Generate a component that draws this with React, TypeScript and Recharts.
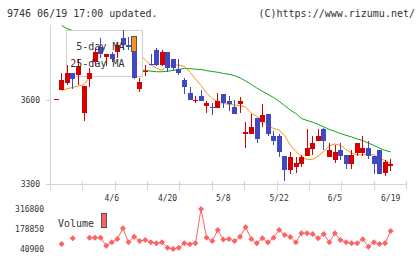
import React from 'react';
import { ComposedChart, Bar, Line, XAxis, YAxis } from 'recharts';

// trading days shown on the chart
const dates = [
  '3/23', '3/24', '3/25', '3/26', '3/27', '3/30', '3/31', '4/1', '4/2', '4/3',
  '4/6', '4/7', '4/8', '4/9', '4/10', '4/13', '4/14', '4/15', '4/16', '4/17',
  '4/20', '4/21', '4/22', '4/23', '4/24', '4/27', '4/28', '4/30', '5/1', '5/7',
  '5/8', '5/11', '5/12', '5/13', '5/14', '5/15', '5/18', '5/19', '5/20', '5/21',
  '5/22', '5/25', '5/26', '5/27', '5/28', '5/29', '6/1', '6/2', '6/3', '6/4',
  '6/5', '6/8', '6/9', '6/10', '6/11', '6/12', '6/15', '6/16', '6/17', '6/18',
  '6/19',
];

const opens = [
  3600, 3635, 3660, 3695, 3690, 3555, 3675, 3735, 3790, 3755,
  3765, 3770, 3820, 3795, 3770, 3640, 3700, 3730, 3780, 3725,
  3770, 3745, 3710, 3670, 3625, 3595, 3615, 3580, 3575, 3570,
  3620, 3595, 3575, 3585, 3480, 3480, 3535, 3520, 3550, 3470,
  3470, 3400, 3350, 3360, 3370, 3400, 3425, 3455, 3495, 3395,
  3385, 3420, 3405, 3370, 3410, 3410, 3430, 3400, 3420, 3340,
  3365,
];
const highs = [
  3600, 3695, 3725, 3695, 3745, 3650, 3715, 3785, 3820, 3765,
  3770, 3805, 3850, 3825, 3770, 3680, 3725, 3765, 3785, 3780,
  3770, 3745, 3745, 3680, 3645, 3615, 3635, 3595, 3590, 3625,
  3620, 3615, 3600, 3610, 3520, 3550, 3535, 3585, 3550, 3490,
  3480, 3400, 3415, 3395, 3405, 3495, 3470, 3495, 3500, 3445,
  3440, 3445, 3405, 3420, 3445, 3470, 3455, 3400, 3420, 3385,
  3390,
];
const lows = [
  3600, 3635, 3655, 3640, 3655, 3525, 3645, 3720, 3750, 3720,
  3735, 3750, 3780, 3780, 3675, 3630, 3685, 3725, 3720, 3720,
  3700, 3705, 3690, 3620, 3600, 3590, 3595, 3555, 3545, 3570,
  3570, 3560, 3550, 3555, 3430, 3480, 3445, 3505, 3470, 3440,
  3395, 3310, 3335, 3340, 3360, 3400, 3405, 3455, 3420, 3395,
  3375, 3385, 3355, 3355, 3400, 3400, 3390, 3335, 3335, 3330,
  3345,
];
const closes = [
  3600, 3670, 3695, 3675, 3720, 3650, 3695, 3770, 3765, 3765,
  3745, 3795, 3795, 3790, 3680, 3665, 3705, 3725, 3725, 3770,
  3715, 3715, 3695, 3645, 3600, 3600, 3595, 3590, 3570, 3595,
  3590, 3585, 3550, 3595, 3485, 3505, 3460, 3545, 3480, 3455,
  3415, 3350, 3395, 3375, 3395, 3430, 3445, 3470, 3455, 3420,
  3415, 3400, 3370, 3405, 3445, 3430, 3400, 3370, 3335, 3380,
  3370,
];
const ma5 = [
  null, 3635, 3640, 3645, 3650, 3655, 3680, 3702, 3720, 3728,
  3747, 3768, 3772, 3777, 3761, 3764, 3743, 3725, 3714, 3706,
  3723, 3725, 3725, 3720, 3700, 3675, 3652, 3625, 3605, 3593,
  3588, 3584, 3582, 3580, 3575, 3554, 3541, 3529, 3509, 3498,
  3493, 3473, 3439, 3416, 3398, 3388, 3388, 3400, 3416, 3436,
  3443, 3438, 3423, 3411, 3404, 3404, 3407, 3404, 3391, 3384,
  3373,
];
const ma25 = [
  null, 3866, 3855, 3848, 3840, 3830, 3820, 3808, 3797, 3786,
  3775, 3763, 3750, 3738, 3725, 3709, 3706, 3703, 3701, 3701,
  3703, 3706, 3709, 3713, 3712, 3710, 3709, 3705, 3702, 3699,
  3695, 3692, 3687, 3679, 3668, 3656, 3643, 3631, 3620, 3609,
  3595, 3580, 3564, 3552, 3534, 3527, 3521, 3513, 3504, 3495,
  3488, 3480, 3474, 3468, 3461, 3455, 3446, 3438, 3428, 3420,
  3415,
];
const volumes = [
  null, 75400, null, 114700, null, null, 118800, 118800, 118800, 63700,
  87100, 109900, 183700, 87100, 125700, 96100, 103000, 87100, 80200, 87100,
  49900, 40900, 49900, 80200, 73300, 80200, 316800, 118800, 96100, 172000,
  106400, 109900, 96100, 125700, 190600, 109900, 80200, 114700, 87100, 118800,
  172000, 137500, 123700, 87100, 149200, 149200, 144400, 114700, 144400, 87100,
  149200, 103000, 87100, 80200, 80200, 107800, 56800, 87100, 75400, 80200,
  165100,
];

const tickDates = ['4/6', '4/20', '5/8', '5/22', '6/5', '6/19'];
const priceTicks = [3300, 3600];
const volumeTicks = [40900, 178850, 316800];

const W = 420;
const H = 259;
const X_DOMAIN: [number, number] = [-1.08, 62.75];
const PRICE_DOMAIN: [number, number] = [3300, 3868];
const VOL_DOMAIN: [number, number] = [40900, 316800];

const RED = '#d40000';
const BLUE = '#4048c2';
const ORANGE = '#f7941d';
const GREEN = '#15a315';
const VOL = '#ff6262';
const AXIS = '#d4d4d4';
const TEXT = '#333';
const FONT = '"DejaVu Sans Mono", monospace';

const rows = dates.map((date, i) => ({
  i,
  date,
  open: opens[i],
  high: highs[i],
  low: lows[i],
  close: closes[i],
  ma5: ma5[i],
  ma25: ma25[i],
  volume: volumes[i],
}));

const labelIdx = tickDates.map((d) => dates.indexOf(d));
// small gray ticks along the price axis, evenly spread edge to edge
const gridTicks = Array.from(
  { length: 12 },
  (_, k) => X_DOMAIN[0] + (k * (X_DOMAIN[1] - X_DOMAIN[0])) / 11
);

const layer: React.CSSProperties = { position: 'absolute', left: 0, top: 0 };

const DateTick = ({ x, y, payload }: any) => {
  if (!labelIdx.includes(payload.value)) {
    const px = Math.round(x);
    return <line x1={px} x2={px} y1={y - 3} y2={y + 6} stroke={AXIS} shapeRendering="crispEdges" />;
  }
  return (
    <text x={x} y={y + 16.5} textAnchor="middle" fontSize={8} fontFamily={FONT} fill={TEXT}>
      {dates[payload.value]}
    </text>
  );
};

const PriceTick = ({ x, y, payload }: any) => (
  <g>
    <line x1={x - 4} x2={x} y1={y} y2={y} stroke={AXIS} shapeRendering="crispEdges" />
    <text x={x - 10} y={y + 3} textAnchor="end" fontSize={8} fontFamily={FONT} fill={TEXT}>
      {payload.value}
    </text>
  </g>
);

const VolumeTick = ({ x, y, payload }: any) => (
  <text x={x - 6} y={y + 3} textAnchor="end" fontSize={8} fontFamily={FONT} fill={TEXT}>
    {payload.value}
  </text>
);

const candleShape = (w: number) => (p: any) => {
  const { x, y, width, height, payload } = p;
  const cx = Math.round(x + width / 2);
  const top = Math.round(Math.min(y, y + height));
  const bottom = Math.max(top + 1, Math.round(Math.max(y, y + height)));
  return (
    <rect
      x={cx - (w - 1) / 2}
      y={top}
      width={w}
      height={bottom - top}
      fill={payload.close >= payload.open ? RED : BLUE}
      shapeRendering="crispEdges"
    />
  );
};

const VolumeDot = (p: any) => {
  const { cx, cy, index, value } = p;
  if (value == null || cy == null) return <g key={index} />;
  return (
    <polygon
      key={index}
      points={`${cx},${cy - 3} ${cx + 3},${cy} ${cx},${cy + 3} ${cx - 3},${cy}`}
      fill={VOL}
    />
  );
};

export default function App() {
  return (
    <div style={{ position: 'absolute', left: 0, top: 0, width: W, height: H, background: '#fff', overflow: 'hidden' }}>
      {/* axes and moving averages */}
      <div style={layer}>
        <ComposedChart width={W} height={H} data={rows} margin={{ top: 25, right: 14, bottom: 49, left: 0 }}>
          <XAxis
            dataKey="i"
            type="number"
            domain={X_DOMAIN}
            ticks={[...labelIdx, ...gridTicks]}
            interval={0}
            height={26}
            tickSize={0}
            tickMargin={0}
            tickLine={false}
            axisLine={{ stroke: AXIS, shapeRendering: 'crispEdges' }}
            tick={DateTick}
          />
          <YAxis
            type="number"
            domain={PRICE_DOMAIN}
            ticks={priceTicks}
            width={50}
            tickSize={0}
            tickMargin={0}
            tickLine={false}
            axisLine={{ stroke: AXIS, shapeRendering: 'crispEdges' }}
            tick={PriceTick}
          />
          <Line dataKey="ma25" type="linear" stroke={GREEN} strokeWidth={1} dot={false} activeDot={false} isAnimationActive={false} />
          <Line dataKey="ma5" type="linear" stroke={ORANGE} strokeWidth={1} dot={false} activeDot={false} isAnimationActive={false} />
        </ComposedChart>
      </div>

      {/* legend box sits over the lines but under the candles */}
      <svg width={W} height={H} style={{ ...layer, pointerEvents: 'none' }}>
        <rect x={66.5} y={30.5} width={76} height={46} fill="#fff" stroke="#cfcfcf" />
      </svg>

      {/* candles */}
      <div style={layer}>
        <ComposedChart width={W} height={H} data={rows} margin={{ top: 25, right: 14, bottom: 75, left: 50 }}>
          <XAxis xAxisId="wick" dataKey="i" type="number" domain={X_DOMAIN} hide />
          <XAxis xAxisId="body" dataKey="i" type="number" domain={X_DOMAIN} hide />
          <YAxis type="number" domain={PRICE_DOMAIN} hide />
          <Bar
            xAxisId="wick"
            dataKey={(d: any) => [d.low, d.high]}
            barSize={1}
            minPointSize={1}
            shape={candleShape(1)}
            isAnimationActive={false}
          />
          <Bar
            xAxisId="body"
            dataKey={(d: any) => [Math.min(d.open, d.close), Math.max(d.open, d.close)]}
            barSize={5}
            minPointSize={1}
            shape={candleShape(5)}
            isAnimationActive={false}
          />
        </ComposedChart>
      </div>

      {/* volume */}
      <div style={layer}>
        <ComposedChart width={W} height={H} data={rows} margin={{ top: 209, right: 14, bottom: 10, left: 0 }}>
          <XAxis dataKey="i" type="number" domain={X_DOMAIN} hide />
          <YAxis
            type="number"
            domain={VOL_DOMAIN}
            ticks={volumeTicks}
            interval={0}
            width={50}
            tickSize={0}
            tickMargin={0}
            axisLine={false}
            tickLine={false}
            tick={VolumeTick}
          />
          <Line
            dataKey="volume"
            type="linear"
            stroke={VOL}
            strokeWidth={1}
            dot={VolumeDot}
            activeDot={false}
            connectNulls={false}
            isAnimationActive={false}
          />
        </ComposedChart>
      </div>

      {/* texts and legend swatches */}
      <svg width={W} height={H} style={{ ...layer, pointerEvents: 'none' }} fontFamily={FONT} fill={TEXT}>
        <text x={7} y={17} fontSize={10}>9746 06/19 17:00 updated.</text>
        <text x={415} y={17} fontSize={10} textAnchor="end">(C)https://www.rizumu.net/</text>
        <text x={124.5} y={50} fontSize={10} textAnchor="end">5-day MA</text>
        <text x={124.5} y={67} fontSize={10} textAnchor="end">25-day MA</text>
        <rect x={131.5} y={36.5} width={5} height={15} fill={ORANGE} stroke="#555" />
        <text x={58} y={226.5} fontSize={10}>Volume</text>
        <rect x={101.5} y={213.5} width={5} height={14} fill={VOL} stroke="#555" />
      </svg>
    </div>
  );
}
